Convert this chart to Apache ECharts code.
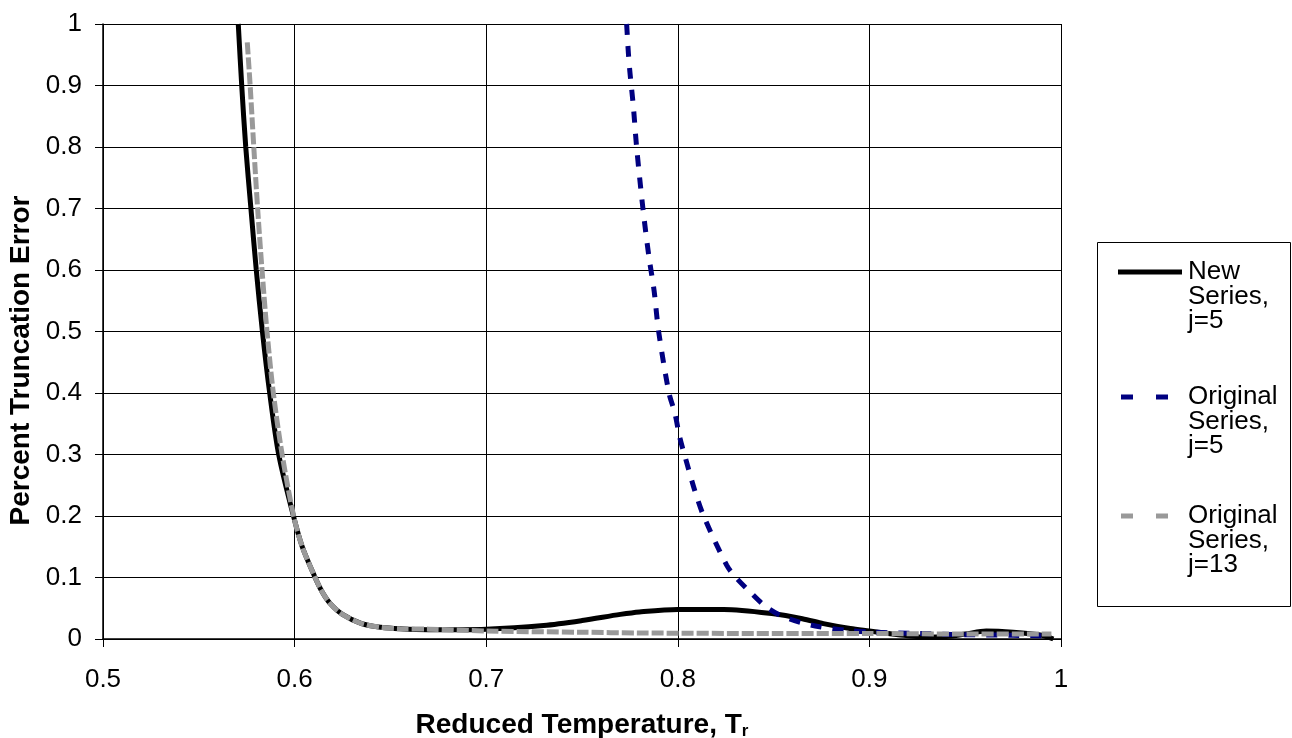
<!DOCTYPE html>
<html>
<head>
<meta charset="utf-8">
<script src="https://cdn.jsdelivr.net/npm/echarts@6/dist/echarts.min.js"></script>
<style>
html,body{margin:0;padding:0;background:#fff;}
#chart{width:1292px;height:738px;}
</style>
</head>
<body>
<div id="chart"></div>
<script>
var seriesNames = ['New Series, j=5', 'Original Series, j=5', 'Original Series, j=13'];

var newX = [0.5706, 0.5724, 0.5745, 0.5772, 0.5800, 0.5832, 0.5870, 0.5917, 0.5994, 0.6040, 0.6107, 0.6145, 0.6185, 0.625, 0.635, 0.645, 0.655, 0.670, 0.700, 0.730, 0.750, 0.770, 0.780, 0.800, 0.824, 0.850, 0.865, 0.876, 0.890, 0.900, 0.915, 0.929, 0.940, 0.950, 0.961, 0.975, 0.990, 0.996];
var newY = [1.0, 0.9, 0.8, 0.7, 0.6, 0.5, 0.4, 0.3, 0.2, 0.15, 0.1, 0.076, 0.058, 0.040, 0.025, 0.019, 0.0165, 0.015, 0.016, 0.022, 0.030, 0.040, 0.044, 0.048, 0.048, 0.041, 0.033, 0.025, 0.017, 0.013, 0.007, 0.003, 0.004, 0.008, 0.013, 0.011, 0.006, 0.0];

var origX = [0.7733, 0.7742, 0.775, 0.7768, 0.7785, 0.7818, 0.785, 0.7876, 0.790, 0.7954, 0.7985, 0.801, 0.804, 0.809, 0.8135, 0.8255, 0.8303, 0.8377, 0.845, 0.8534, 0.864, 0.874, 0.888, 0.902, 0.925, 0.95, 0.975, 0.995];
var origY = [1.0, 0.953, 0.922, 0.866, 0.80, 0.70, 0.62, 0.567, 0.5, 0.4, 0.367, 0.328, 0.294, 0.24, 0.2, 0.12, 0.1, 0.0766, 0.055, 0.0386, 0.027, 0.02, 0.014, 0.011, 0.009, 0.007, 0.006, 0.005];

var orig13X = [0.5753, 0.5768, 0.5787, 0.5807, 0.5830, 0.5856, 0.5889, 0.5935, 0.5995, 0.6040, 0.6107, 0.6145, 0.6185, 0.625, 0.635, 0.645, 0.655, 0.670, 0.700, 0.750, 0.780, 0.850, 0.900, 0.950, 0.995];
var orig13Y = [0.97, 0.9, 0.8, 0.7, 0.6, 0.5, 0.4, 0.3, 0.2, 0.15, 0.1, 0.076, 0.058, 0.040, 0.025, 0.019, 0.0165, 0.016, 0.013, 0.011, 0.0098, 0.009, 0.009, 0.008, 0.008];

var xTicks = [0.5, 0.6, 0.7, 0.8, 0.9, 1];
var yTicks = [0, 0.1, 0.2, 0.3, 0.4, 0.5, 0.6, 0.7, 0.8, 0.9, 1];
var legendLabels = ['New\nSeries,\nj=5', 'Original\nSeries,\nj=5', 'Original\nSeries,\nj=13'];

function pairs(xs, ys) { return xs.map(function (x, i) { return [x, ys[i]]; }); }

var FONT = '"Liberation Sans", Arial, sans-serif';
var COLORS = ['#000000', '#000080', '#999999'];
var chart = echarts.init(document.getElementById('chart'), null, {renderer: 'canvas'});

// legend built with graphic elements (sample line + multi-line label)
var legendRowY = [272, 397, 516];
var legendGraphics = [{
  type: 'rect', left: 1097, top: 242, z: 100,
  shape: {width: 193, height: 364},
  style: {fill: '#fff', stroke: '#000', lineWidth: 1}
}];
legendRowY.forEach(function (y, i) {
  if (i === 0) {
    legendGraphics.push({type: 'line', z: 101, shape: {x1: 1118, y1: y, x2: 1182, y2: y},
      style: {stroke: COLORS[i], lineWidth: 5}});
  } else {
    [[1121, 1133], [1156, 1168]].forEach(function (seg) {
      legendGraphics.push({type: 'line', z: 101, shape: {x1: seg[0], y1: y, x2: seg[1], y2: y},
        style: {stroke: COLORS[i], lineWidth: 5}});
    });
  }
  legendGraphics.push({type: 'text', z: 101, x: 1188, y: y - 12,
    style: {text: legendLabels[i], font: '26px ' + FONT, fill: '#000', lineHeight: 24.5,
      verticalAlign: 'top', align: 'left'}});
});

chart.setOption({
  animation: false,
  backgroundColor: '#fff',
  grid: {left: 103, right: 231, top: 24, bottom: 99, containLabel: false, outerBoundsMode: 'none'},
  xAxis: {
    type: 'value', min: xTicks[0], max: xTicks[xTicks.length - 1], interval: 0.1,
    name: '{a|Reduced Temperature, T}{b|r}',
    nameLocation: 'middle', nameGap: 72,
    nameTextStyle: {
      fontFamily: FONT, color: '#000',
      rich: {
        a: {fontSize: 28, fontWeight: 'bold', fontFamily: FONT, color: '#000'},
        b: {fontSize: 17, fontWeight: 'bold', fontFamily: FONT, color: '#000', padding: [12, 0, 0, 0]}
      }
    },
    axisLine: {show: true, lineStyle: {color: '#000', width: 1.5}},
    axisTick: {show: true, inside: false, length: 8, lineStyle: {color: '#000', width: 1}},
    axisLabel: {fontSize: 26, fontFamily: FONT, color: '#000', margin: 28,
      formatter: function (v) { return String(Math.round(v * 10) / 10); }},
    splitLine: {show: true, lineStyle: {color: '#000', width: 1}}
  },
  yAxis: {
    type: 'value', min: yTicks[0], max: yTicks[yTicks.length - 1], interval: 0.1,
    name: 'Percent Truncation Error',
    nameLocation: 'middle', nameGap: 66, nameRotate: 90,
    nameTextStyle: {fontSize: 28, fontWeight: 'bold', fontFamily: FONT, color: '#000', padding: [0, 58, 0, 0]},
    axisLine: {show: true, lineStyle: {color: '#000', width: 1.5}},
    axisTick: {show: true, inside: false, length: 8, lineStyle: {color: '#000', width: 1}},
    axisLabel: {fontSize: 26, fontFamily: FONT, color: '#000', margin: 21,
      formatter: function (v) { return String(Math.round(v * 10) / 10); }},
    splitLine: {show: true, lineStyle: {color: '#000', width: 1}}
  },
  graphic: legendGraphics,
  series: [
    {
      name: seriesNames[0], type: 'line', data: pairs(newX, newY),
      showSymbol: false, symbol: 'none', smooth: 0.3, clip: true,
      lineStyle: {color: COLORS[0], width: 5, type: 'solid'}, itemStyle: {color: COLORS[0]}, z: 2
    },
    {
      name: seriesNames[1], type: 'line', data: pairs(origX, origY),
      showSymbol: false, symbol: 'none', smooth: 0.3, clip: true,
      lineStyle: {color: COLORS[1], width: 5, type: [11, 11]}, itemStyle: {color: COLORS[1]}, z: 3
    },
    {
      name: seriesNames[2], type: 'line', data: pairs(orig13X, orig13Y),
      showSymbol: false, symbol: 'none', smooth: 0.3, clip: true,
      lineStyle: {color: COLORS[2], width: 5, type: [12, 3]}, itemStyle: {color: COLORS[2]}, z: 4
    }
  ]
});
</script>
</body>
</html>
